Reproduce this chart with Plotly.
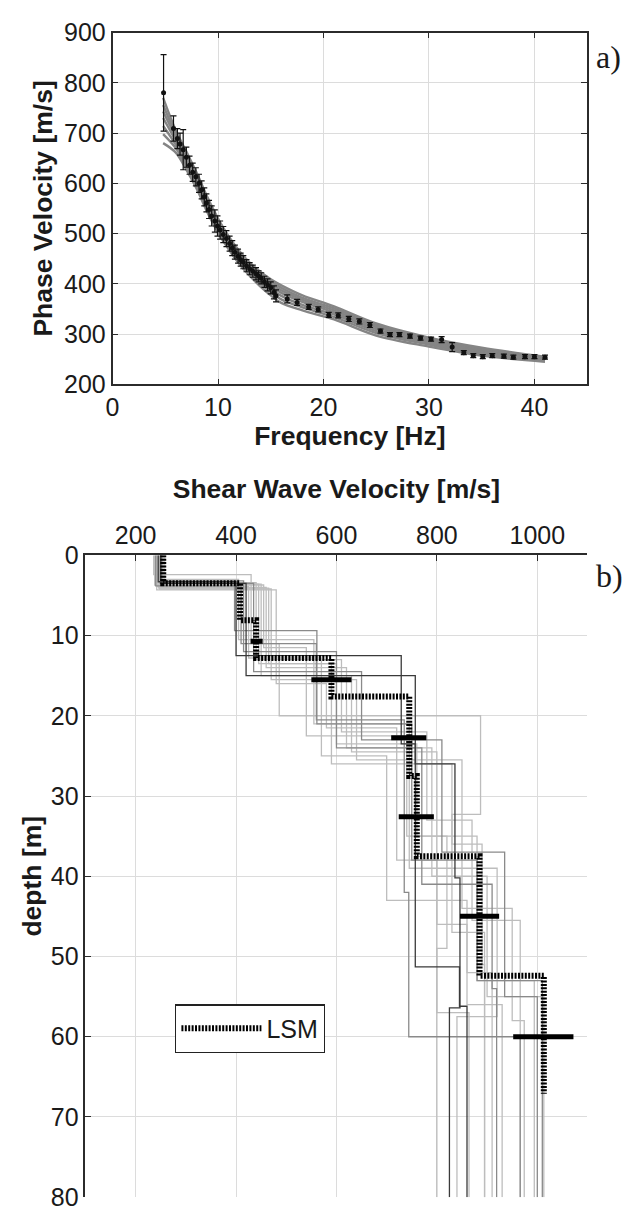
import plotly.graph_objects as go

# ---------------- Panel a) : dispersion curve ----------------
FREQ = [4.84, 5.78, 6.15, 6.4, 6.7, 7.0, 7.3, 7.6, 7.9, 8.2, 8.45, 8.7, 8.9, 9.15,
        9.4, 9.7, 9.95, 10.2, 10.5, 10.8, 11.1, 11.35, 11.6, 11.9, 12.15, 12.4,
        12.7, 13.0, 13.3, 13.6, 13.85, 14.1, 14.4, 14.7, 15.0, 15.3, 15.5,
        16.56, 17.5, 18.6, 19.5, 20.5, 21.4, 22.4, 23.4, 24.4, 25.4, 26.3, 27.2,
        28.2, 29.2, 30.2, 31.2, 32.2, 33.3, 34.2, 35.1, 36.0, 37.1, 38.0, 39.1,
        40.0, 41.0]
PHASE_VEL = [780, 709, 689, 678, 667, 652, 636, 622, 613, 600, 587, 573, 561, 548,
             535, 525, 515, 507, 498, 490, 480, 471, 463, 455, 448, 443,
             436, 430, 425, 420, 415, 411, 404, 398, 392, 383, 376,
             370, 363, 354, 349, 338, 337, 330, 325, 318, 306, 299, 299,
             296, 292, 290, 289, 274, 263, 257, 255, 257, 256, 254, 255,
             255, 254]
PHASE_ERR = [76, 25, 20, 22, 40, 20, 18, 18, 18, 18, 18, 18, 18, 18,
             20, 22, 20, 18, 16, 16, 15, 15, 14, 14, 13, 13,
             12, 12, 12, 12, 11, 11, 11, 12, 12, 13, 12,
             8, 6, 5, 5, 5, 5, 5, 5, 5, 4, 4, 4,
             4, 4, 4, 6, 9, 4, 4, 4, 4, 4, 4, 4,
             4, 4]

MODEL_FREQ = [4.8, 6, 7, 8, 9, 10, 11, 12, 13, 14, 15, 16, 18, 21, 25, 30, 35, 41]
MODEL_CURVES = [
    [680, 661, 627, 588, 542, 502, 469, 440, 416, 395, 377, 362, 347, 329, 297, 275, 257, 245],
    [698, 670, 634, 594, 548, 508, 474, 445, 421, 401, 383, 369, 353, 334, 302, 279, 260, 247],
    [714, 677, 640, 600, 553, 512, 479, 450, 426, 406, 389, 376, 358, 339, 306, 282, 263, 249],
    [730, 685, 647, 606, 559, 517, 483, 454, 430, 411, 395, 382, 364, 343, 310, 285, 266, 250],
    [743, 692, 652, 610, 563, 522, 487, 458, 434, 416, 400, 387, 368, 347, 314, 288, 268, 252],
    [756, 698, 658, 615, 568, 526, 491, 462, 438, 420, 405, 392, 372, 351, 317, 290, 271, 253],
    [770, 705, 663, 620, 572, 530, 495, 466, 442, 424, 409, 397, 377, 355, 321, 293, 273, 255],
]

FREQ_TICKS = [0, 10, 20, 30, 40]
PV_TICKS = [200, 300, 400, 500, 600, 700, 800, 900]

# ---------------- Panel b) : shear-wave velocity profiles ----------------
PROFILE_VS = [
    [236, 430, 486, 887, 830, 895],
    [255, 445, 600, 760, 880, 994],
    [250, 460, 620, 790, 900, 1013],
    [248, 470, 640, 850, 950, 974],
    [242, 480, 580, 720, 800, 864],
    [238, 455, 540, 740, 820, 800],
    [258, 440, 610, 780, 870, 966],
    [244, 425, 570, 700, 860, 910],
    [246, 465, 590, 830, 890, 895],
    [253, 405, 555, 745, 920, 840],
    [241, 450, 630, 800, 860, 930],
    [240, 410, 560, 735, 744, 966],
    [252, 415, 600, 770, 910, 919],
    [249, 435, 650, 810, 935, 1000],
    [250, 397, 561, 750, 880, 1010],
    [250, 420, 757, 836, 846, 825],
    [245, 400, 729, 757, 845, 860],
]
PROFILE_BOTTOMS = [
    [2.4, 11, 20, 32.3, 47],
    [3.6, 13.5, 23.5, 35, 53],
    [4.0, 14, 24, 40, 55],
    [4.2, 15.5, 25.5, 44, 58],
    [4.3, 16, 21.5, 38, 57],
    [3.7, 11.5, 22.5, 35, 49],
    [3.4, 13, 22, 33, 45.5],
    [3.9, 12.8, 25, 43, 52],
    [4.1, 13.5, 26, 36, 51],
    [3.0, 10.5, 21, 39, 57.5],
    [3.6, 15, 24.5, 46, 56],
    [3.8, 11, 20.5, 42, 60],
    [3.2, 12, 24, 41, 54],
    [3.5, 14.5, 23, 37, 55],
    [3.5, 9.4, 21, 38, 53],
    [3.5, 15, 26, 40.2, 56.4],
    [3.3, 12.5, 23.5, 51.3, 56.2],
]
PROFILE_SHADE = ["#bdbdbd"] * 11 + ["#8a8a8a"] * 4 + ["#3a3a3a"] * 2
PROFILE_END = 80

LSM_VS = [255, 408, 440, 590, 745, 760, 885, 1013]
LSM_BOTTOMS = [3.5, 8.1, 12.8, 17.6, 27.5, 37.5, 52.4]
LSM_END = 67.1
LSM_ERR_DEPTH = [10.7, 15.5, 22.75, 32.6, 45.0, 60.0]
LSM_ERR_VS = [441, 590, 744, 759, 885, 1012]
LSM_ERR_HALF = [12, 40, 35, 35, 39, 60]

VS_TICKS = [200, 400, 600, 800, 1000]
DEPTH_TICKS = [0, 10, 20, 30, 40, 50, 60, 70, 80]

W, H = 632, 1220
FONT = "Liberation Sans, Arial, sans-serif"
SERIF = "Liberation Serif, Times New Roman, serif"
INK = "#1a1a1a"
AXC = "#2b2b2b"
GRID = "#dcdcdc"


def steps(vs, bottoms, end):
    return list(vs) + [vs[-1]], [0] + list(bottoms) + [end]


fig = go.Figure()

# model curves (gray band)
for curve in MODEL_CURVES:
    fig.add_trace(go.Scatter(x=MODEL_FREQ, y=curve, mode="lines",
                             line=dict(color="#858585", width=2.4, shape="spline"),
                             showlegend=False, hoverinfo="skip",
                             xaxis="x", yaxis="y"))

# experimental points with error bars
fig.add_trace(go.Scatter(x=FREQ, y=PHASE_VEL, mode="markers",
                         marker=dict(color="#111111", size=5),
                         error_y=dict(type="data", array=PHASE_ERR, visible=True,
                                      color="#111111", thickness=1.2, width=3),
                         showlegend=False, xaxis="x", yaxis="y"))

# profiles
for vs, bt, col in zip(PROFILE_VS, PROFILE_BOTTOMS, PROFILE_SHADE):
    xs, ys = steps(vs, bt, PROFILE_END)
    fig.add_trace(go.Scatter(x=xs, y=ys, mode="lines",
                             line=dict(color=col, width=1.3, shape="vh"),
                             showlegend=False, hoverinfo="skip",
                             xaxis="x2", yaxis="y2"))

xs, ys = steps(LSM_VS, LSM_BOTTOMS, LSM_END)
fig.add_trace(go.Scatter(x=xs, y=ys, mode="lines", name="LSM",
                         line=dict(color="#000000", width=6, shape="vh", dash="2px,1.4px"),
                         showlegend=True, xaxis="x2", yaxis="y2"))

fig.add_trace(go.Scatter(x=LSM_ERR_VS, y=LSM_ERR_DEPTH, mode="markers",
                         marker=dict(color="#000000", size=1),
                         error_x=dict(type="data", array=LSM_ERR_HALF, visible=True,
                                      color="#000000", thickness=5, width=0),
                         showlegend=False, xaxis="x2", yaxis="y2"))

axis_common = dict(showline=True, linecolor=AXC, linewidth=1.5, ticks="inside",
                   ticklen=6, tickwidth=1.3, tickcolor=AXC, showgrid=True,
                   gridcolor=GRID, gridwidth=1, zeroline=False,
                   tickfont=dict(family=FONT, size=25, color=INK))
title_font = dict(family=FONT, size=26.5, color=INK, weight="bold")

fig.update_layout(
    width=W, height=H, autosize=False,
    margin=dict(l=0, r=0, t=0, b=0),
    paper_bgcolor="white", plot_bgcolor="white",
    font=dict(family=FONT, color=INK),
    xaxis=dict(domain=[106.7 / W, 586.7 / W], anchor="y", range=[0, 45],
               tickvals=FREQ_TICKS, mirror="ticks",
               title=dict(text="Frequency [Hz]", font=title_font, standoff=4),
               **axis_common),
    yaxis=dict(domain=[1 - 379 / H, 1 - 19 / H], anchor="x", range=[200, 900],
               tickvals=PV_TICKS, mirror="ticks",
               title=dict(text="Phase Velocity [m/s]", font=title_font, standoff=4),
               **axis_common),
    xaxis2=dict(domain=[79.3 / W, 587 / W], anchor="y2", side="top", range=[100, 1100],
                tickvals=VS_TICKS,
                title=dict(text="Shear Wave Velocity [m/s]", font=title_font, standoff=14),
                **axis_common),
    yaxis2=dict(domain=[1 - 1211 / H, 1 - 554 / H], anchor="x2", range=[80, 0],
                tickvals=DEPTH_TICKS,
                title=dict(text="depth [m]", font=title_font, standoff=2),
                **axis_common),
    legend=dict(x=170 / W, y=1 - 1013.5 / H, xanchor="left", yanchor="top",
                bgcolor="white", bordercolor="#222222", borderwidth=1.3,
                font=dict(family=FONT, size=25, color=INK), itemwidth=80,
                entrywidth=165, entrywidthmode="pixels"),
    annotations=[
        dict(text="a)", x=594 / W, y=1 - 44 / H, xref="paper", yref="paper",
             xanchor="left", yanchor="middle", showarrow=False,
             font=dict(family=SERIF, size=32, color=INK)),
        dict(text="b)", x=594 / W, y=1 - 575 / H, xref="paper", yref="paper",
             xanchor="left", yanchor="middle", showarrow=False,
             font=dict(family=SERIF, size=32, color=INK)),
    ],
)

fig.write_html("out.html", config={"displayModeBar": False},
               post_script="document.body.style.margin='0px';"
                           "document.body.style.overflow='hidden';")
